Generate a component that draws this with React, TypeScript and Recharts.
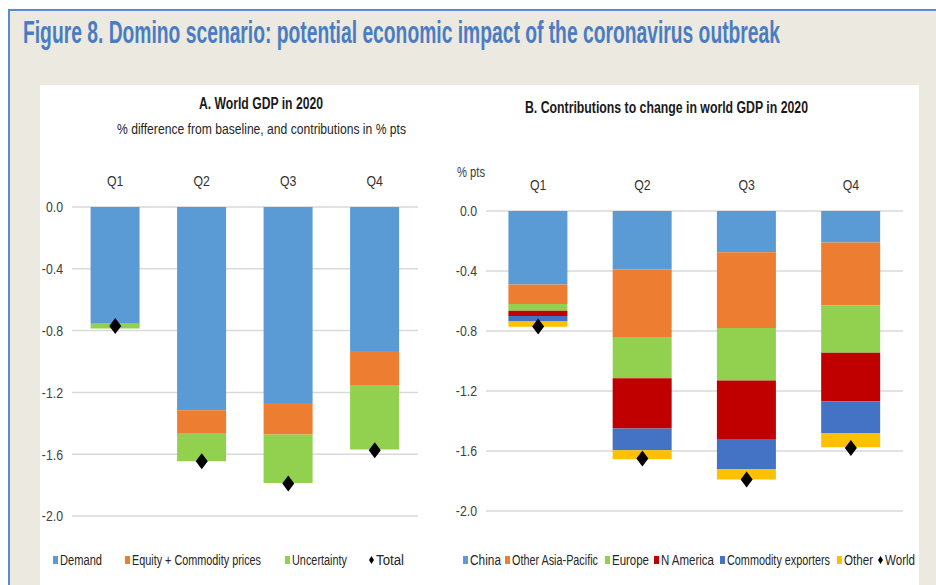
import React from "react";
import { ComposedChart, Bar, Line, XAxis, YAxis, CartesianGrid } from "recharts";

// values (% pts)
const quarters = ["Q1", "Q2", "Q3", "Q4"];

const demand = [-0.755, -1.316, -1.268, -0.932];
const equityCommodity = [0, -0.151, -0.205, -0.22];
const uncertainty = [-0.032, -0.179, -0.313, -0.418];
const total = [-0.77, -1.645, -1.79, -1.575];

const china = [-0.49, -0.39, -0.275, -0.21];
const otherAsiaPacific = [-0.13, -0.45, -0.505, -0.42];
const europe = [-0.045, -0.275, -0.35, -0.315];
const nAmerica = [-0.035, -0.335, -0.39, -0.325];
const commodityExporters = [-0.037, -0.145, -0.2, -0.21];
const otherRegions = [-0.035, -0.06, -0.07, -0.095];
const world = [-0.77, -1.65, -1.79, -1.58];

const yTicks = [0, -0.4, -0.8, -1.2, -1.6, -2.0];

const C = {
  blue: "#5B9BD5",
  orange: "#ED7D31",
  green: "#92D050",
  red: "#C00000",
  darkBlue: "#4472C4",
  yellow: "#FFC000",
};

const FONT = "'Liberation Sans', Arial, sans-serif";
const SX = 0.82; // squeeze to mimic Arial Narrow

const dataA = quarters.map((q, i) => ({
  q,
  demand: demand[i],
  equity: equityCommodity[i],
  uncertainty: uncertainty[i],
  total: total[i],
}));

const dataB = quarters.map((q, i) => ({
  q,
  china: china[i],
  oap: otherAsiaPacific[i],
  europe: europe[i],
  nam: nAmerica[i],
  comm: commodityExporters[i],
  other: otherRegions[i],
  world: world[i],
}));

const diamond = (props: any) => {
  const { cx, cy, index } = props;
  if (cx == null || cy == null) return <g key={index} />;
  return (
    <polygon
      key={index}
      points={`${cx},${cy - 8} ${cx + 6},${cy} ${cx},${cy + 8} ${cx - 6},${cy}`}
      fill="#000"
    />
  );
};

// narrow text: drawn at normal font, squeezed horizontally
function NText({ x, y, size, width, bold, fill = "#262626", anchor = "start", sx = SX, sy = 1, children }: any) {
  return (
    <g transform={`translate(${x},${y}) scale(${sx},${sy})`}>
      <text
        x={0}
        y={0}
        fontSize={size}
        fontWeight={bold ? "bold" : "normal"}
        fill={fill}
        fontFamily={FONT}
        textAnchor={anchor}
        textLength={width ? width / sx : undefined}
        lengthAdjust={width ? "spacingAndGlyphs" : undefined}
      >
        {children}
      </text>
    </g>
  );
}

const XTick = (props: any) => {
  const { x, y, payload } = props;
  return (
    <g transform={`translate(${x},${y}) scale(${SX},1)`}>
      <text x={0} y={0} dy={-2} fontSize={15} fill="#333" fontFamily={FONT} textAnchor="middle">
        {payload.value}
      </text>
    </g>
  );
};

const YTick = (props: any) => {
  const { x, y, payload } = props;
  return (
    <g transform={`translate(${x},${y}) scale(${SX},1)`}>
      <text x={0} y={0} dy="0.36em" fontSize={15} fill="#404040" fontFamily={FONT} textAnchor="end">
        {Number(payload.value).toFixed(1)}
      </text>
    </g>
  );
};

function LegendItem({ x, color, label, width, isDiamond }: any) {
  return (
    <g>
      {isDiamond ? (
        <polygon points={`${x + 2.5},556 ${x + 5},560 ${x + 2.5},564 ${x},560`} fill="#000" />
      ) : (
        <rect x={x} y={556} width={5} height={8} fill={color} />
      )}
      <NText x={x + 7} y={565} size={15} width={width}>
        {label}
      </NText>
    </g>
  );
}

export default function App() {
  return (
    <div style={{ position: "absolute", left: 0, top: 0, width: 936, height: 585, overflow: "hidden", background: "#fff" }}>
      {/* frame */}
      <div style={{ position: "absolute", left: 8, top: 9, width: 940, height: 590, background: "#ECEAE0", borderTop: "2px solid #5A8CCD", borderLeft: "2px solid #5A8CCD" }} />
      <div style={{ position: "absolute", left: 40, top: 85, width: 879, height: 500, background: "#fff" }} />

      <div style={{ position: "absolute", left: 0, top: 0 }}>
        <ComposedChart
          width={430}
          height={585}
          data={dataA}
          margin={{ top: 177, right: 12, bottom: 69, left: 14 }}
          barCategoryGap="21.5%"
        >
          <CartesianGrid vertical={false} stroke="#D9D9D9" strokeWidth={1.5} />
          <XAxis dataKey="q" orientation="top" axisLine={false} tickLine={false} height={30} tick={<XTick />} tickMargin={13} />
          <YAxis type="number" domain={[-2, 0]} ticks={yTicks} axisLine={false} tickLine={false} width={58} tick={<YTick />} tickMargin={3} interval={0} />
          <Bar dataKey="demand" stackId="a" fill={C.blue} isAnimationActive={false} />
          <Bar dataKey="equity" stackId="a" fill={C.orange} isAnimationActive={false} />
          <Bar dataKey="uncertainty" stackId="a" fill={C.green} isAnimationActive={false} />
          <Line dataKey="total" stroke="none" dot={diamond} activeDot={false} legendType="diamond" isAnimationActive={false} />
        </ComposedChart>
      </div>

      <div style={{ position: "absolute", left: 430, top: 0 }}>
        <ComposedChart
          width={506}
          height={585}
          data={dataB}
          margin={{ top: 181, right: 33, bottom: 74, left: 0 }}
          barCategoryGap="21.5%"
        >
          <CartesianGrid vertical={false} stroke="#D9D9D9" strokeWidth={1.5} />
          <XAxis dataKey="q" orientation="top" axisLine={false} tickLine={false} height={30} tick={<XTick />} tickMargin={13} />
          <YAxis type="number" domain={[-2, 0]} ticks={yTicks} axisLine={false} tickLine={false} width={56} tick={<YTick />} tickMargin={3} interval={0} />
          <Bar dataKey="china" stackId="b" fill={C.blue} isAnimationActive={false} />
          <Bar dataKey="oap" stackId="b" fill={C.orange} isAnimationActive={false} />
          <Bar dataKey="europe" stackId="b" fill={C.green} isAnimationActive={false} />
          <Bar dataKey="nam" stackId="b" fill={C.red} isAnimationActive={false} />
          <Bar dataKey="comm" stackId="b" fill={C.darkBlue} isAnimationActive={false} />
          <Bar dataKey="other" stackId="b" fill={C.yellow} isAnimationActive={false} />
          <Line dataKey="world" stroke="none" dot={diamond} activeDot={false} legendType="diamond" isAnimationActive={false} />
        </ComposedChart>
      </div>

      {/* titles and legends */}
      <svg width={936} height={585} style={{ position: "absolute", left: 0, top: 0, pointerEvents: "none" }}>
        <NText x={23} y={43} size={17} bold fill="#4A7CC4" width={757} sx={1} sy={1.8}>
          Figure 8. Domino scenario: potential economic impact of the coronavirus outbreak
        </NText>

        <NText x={199} y={109} size={16} bold fill="#1a1a1a" width={124}>
          A. World GDP in 2020
        </NText>
        <NText x={117} y={134} size={15} width={289}>
          % difference from baseline, and contributions in % pts
        </NText>

        <NText x={525} y={113} size={16} bold fill="#1a1a1a" width={283}>
          B. Contributions to change in world GDP in 2020
        </NText>
        <NText x={457} y={177} size={14} fill="#404040" width={28}>
          % pts
        </NText>

        <LegendItem x={53} color={C.blue} label="Demand" width={42} />
        <LegendItem x={125} color={C.orange} label="Equity + Commodity prices" width={129} />
        <LegendItem x={285} color={C.green} label="Uncertainty" width={55} />
        <LegendItem x={369} isDiamond label="Total" width={28} />

        <LegendItem x={463} color={C.blue} label="China" width={31} />
        <LegendItem x={505} color={C.orange} label="Other Asia-Pacific" width={86} />
        <LegendItem x={605} color={C.green} label="Europe" width={37} />
        <LegendItem x={654} color={C.red} label="N America" width={53} />
        <LegendItem x={720} color={C.darkBlue} label="Commodity exporters" width={103} />
        <LegendItem x={837} color={C.yellow} label="Other" width={29} />
        <LegendItem x={878} isDiamond label="World" width={30} />
      </svg>
    </div>
  );
}
